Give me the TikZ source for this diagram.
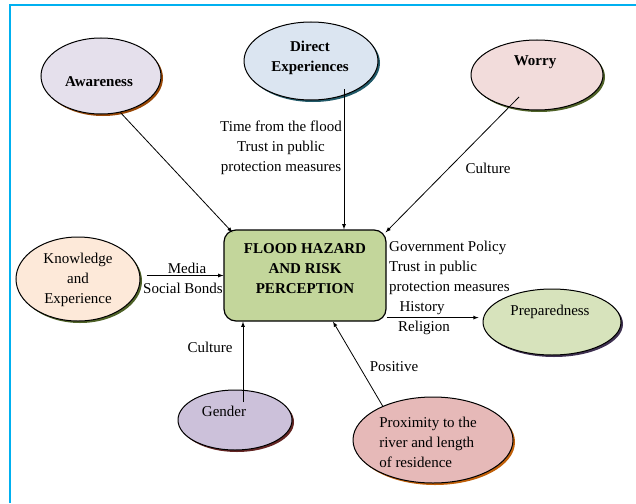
\documentclass[tikz,border=0pt]{standalone}
\usepackage{fontspec}
\setmainfont{Liberation Serif}
\usetikzlibrary{shapes.geometric,shadows}

\definecolor{frame}{HTML}{00B0F0}
\definecolor{awarefill}{HTML}{E5E0EC}
\definecolor{awareshade}{HTML}{984807}
\definecolor{directfill}{HTML}{DBE5F1}
\definecolor{directshade}{HTML}{215968}
\definecolor{worryfill}{HTML}{F2DCDB}
\definecolor{worryshade}{HTML}{4F6228}
\definecolor{knowfill}{HTML}{FDE9D9}
\definecolor{knowshade}{HTML}{4F6228}
\definecolor{boxfill}{HTML}{C3D69B}
\definecolor{prepfill}{HTML}{D7E3BC}
\definecolor{prepshade}{HTML}{3F3151}
\definecolor{genderfill}{HTML}{CCC1DA}
\definecolor{gendershade}{HTML}{632523}
\definecolor{proxfill}{HTML}{E6B9B8}
\definecolor{proxshade}{HTML}{C0600A}

\tikzset{
  bubble/.style 2 args={ellipse, draw, line width=1pt, inner sep=0pt, fill=#1,
    general shadow={fill=#2, shadow xshift=2pt, shadow yshift=-2pt}},
  txt/.style={font=\fontsize{15}{20}\selectfont, inner sep=0pt, align=center},
  bold/.style={txt, font=\fontsize{15}{20}\selectfont\bfseries},
  link/.style={->, line width=0.8pt},
}

\begin{document}
\begin{tikzpicture}[x=1pt,y=-1pt,>=latex]
\useasboundingbox (0,0) rectangle (636,503);
\draw [line width=2pt, draw=frame] (9.5,503) -- (9.5,5.5) -- (636,5.5);

% factors
\node [bubble={awarefill}{awareshade}, minimum width=120pt, minimum height=76pt] (aware) at (101,76) {};
\node [bubble={directfill}{directshade}, minimum width=134pt, minimum height=78pt] (direct) at (311,61) {};
\node [bubble={worryfill}{worryshade}, minimum width=132pt, minimum height=70pt] (worry) at (537,75) {};
\node [bubble={knowfill}{knowshade}, minimum width=124pt, minimum height=84pt] (know) at (78,279) {};
\node [bubble={prepfill}{prepshade}, minimum width=138pt, minimum height=66pt] (prep) at (552,322) {};
\node [bubble={genderfill}{gendershade}, minimum width=114pt, minimum height=60pt] (gender) at (235,420) {};
\node [bubble={proxfill}{proxshade}, minimum width=160pt, minimum height=86pt] (prox) at (433,440) {};
\node [draw, line width=1.2pt, fill=boxfill, rounded corners=12pt, minimum width=162pt, minimum height=91pt] (box) at (305,275.5) {};

\node [bold] (awarelbl) at (99,82) {Awareness};
\node [bold] (directlbl) at (310,58) {Direct\\Experiences};
\node [bold] (worrylbl) at (535,62) {Worry};
\node [txt] (knowlbl) at (78,280) {Knowledge\\and\\Experience};
\node [bold] (boxlbl) at (305,269) {FLOOD HAZARD\\AND RISK\\PERCEPTION};
\node [txt] (preplbl) at (550,312) {Preparedness};
\node [txt] (genderlbl) at (224,411) {Gender};
\node [txt, align=left] (proxlbl) at (428,442) {Proximity to the\\river and length\\of residence};

% influences
\draw [link] (aware.298) -- ([xshift=9pt,yshift=-3pt]box.north west);
\draw [link] ([xshift=33pt,yshift=-28pt]direct.center) -- ([xshift=39pt]box.north);
\draw [link] ([xshift=-18pt,yshift=-22pt]worry.center) -- ([xshift=-1pt,yshift=-3pt]box.north east);
\draw [link] ([xshift=6pt]know.east |- box.west) -- (box.west);
\draw [link] ([yshift=4pt]box.south east) -- ([xshift=-4pt,yshift=4pt]prep.west |- box.south east);
\draw [link] ([xshift=8pt,yshift=18pt]gender.center) -- ([xshift=8pt]gender.center |- box.south);
\draw [link] (prox.146) -- ([xshift=28pt]box.south);

\node [txt] (timelbl) at (281,148) {Time from the flood\\Trust in public\\protection measures};
\node [txt] (culturetop) at (488,168) {Culture};
\node [txt] (medialbl) at (187,268) {Media};
\node [txt] (sociallbl) at (183,288) {Social Bonds};
\node [txt, align=left, anchor=west] (govlbl) at (389,268) {Government Policy\\Trust in public\\protection measures};
\node [txt] (historylbl) at (422,308) {History};
\node [txt] (religionlbl) at (424,328) {Religion};
\node [txt] (culturelow) at (210,347) {Culture};
\node [txt] (positivelbl) at (394,367) {Positive};
\end{tikzpicture}
\end{document}
